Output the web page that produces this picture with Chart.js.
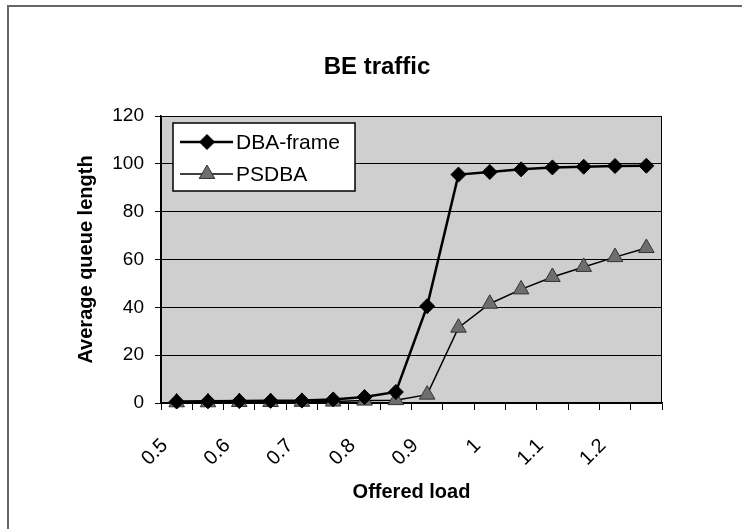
<!DOCTYPE html>
<html>
<head>
<meta charset="utf-8">
<script src="https://cdn.jsdelivr.net/npm/chart.js@4.4.0/dist/chart.umd.min.js"></script>
<style>
    html, body { margin: 0; padding: 0; background: #fff; }
    #wrap { position: relative; width: 742px; height: 529px; }
    #frame { position: absolute; left: 7px; top: 5px; right: 0; bottom: 0;
             border-top: 2px solid #666; border-left: 2px solid #666; pointer-events: none; }
</style>
</head>
<body>
<div id="wrap">
    <canvas id="beChart" width="742" height="529"></canvas>
    <div id="frame"></div>
</div>
<script>
// Offered load categories (every other one gets a tick label)
const loads = ['0.5', '0.55', '0.6', '0.65', '0.7', '0.75', '0.8', '0.85',
               '0.9', '0.95', '1', '1.05', '1.1', '1.15', '1.2', '1.25'];

// Average queue length
const dbaFrame = [0.6, 0.7, 0.8, 0.9, 1.0, 1.5, 2.5, 4.6,
                  40.5, 95.5, 96.6, 97.7, 98.5, 98.8, 99.1, 99.2];
const psdba = [0.3, 0.3, 0.4, 0.4, 0.5, 0.6, 1.0, 1.2,
               3.5, 31.5, 41.5, 47.5, 52.7, 56.9, 61.0, 64.8];

const yMax = 120;
const yStep = 20;

// Gray plot area + border
const plotBackground = {
    id: 'plotBackground',
    beforeDraw(chart) {
        const { ctx, chartArea: a } = chart;
        ctx.save();
        ctx.fillStyle = '#cfcfcf';
        ctx.fillRect(a.left, a.top, a.right - a.left, a.bottom - a.top);
        ctx.restore();
    },
    beforeDatasetsDraw(chart) {
        const { ctx, chartArea: a } = chart;
        ctx.save();
        ctx.strokeStyle = '#000';
        ctx.lineWidth = 1;
        ctx.strokeRect(a.left + 0.5, a.top + 0.5, a.right - a.left - 1, a.bottom - a.top);
        ctx.restore();
    }
};

// Title drawn at a fixed place (Excel centres it on the whole chart)
const fixedTitle = {
    id: 'fixedTitle',
    afterDraw(chart) {
        const ctx = chart.ctx;
        ctx.save();
        ctx.fillStyle = '#000';
        ctx.font = 'bold 24px "Liberation Sans", Arial, sans-serif';
        ctx.textAlign = 'center';
        ctx.textBaseline = 'middle';
        ctx.fillText('BE traffic', 377, 67);
        ctx.restore();
    }
};

function drawMarker(ctx, style, x, y, r, fill, stroke) {
    ctx.beginPath();
    if (style === 'rectRot') {
        ctx.moveTo(x, y - r);
        ctx.lineTo(x + r, y);
        ctx.lineTo(x, y + r);
        ctx.lineTo(x - r, y);
    } else {
        ctx.moveTo(x, y - r);
        ctx.lineTo(x + r * 0.866, y + r * 0.5);
        ctx.lineTo(x - r * 0.866, y + r * 0.5);
    }
    ctx.closePath();
    ctx.fillStyle = fill;
    ctx.fill();
    ctx.lineWidth = 1;
    ctx.strokeStyle = stroke;
    ctx.stroke();
}

// Boxed legend with line + marker samples, inside the plot area
const boxLegend = {
    id: 'boxLegend',
    afterDraw(chart) {
        const ctx = chart.ctx;
        const bx = 173, by = 123, bw = 182, bh = 68;
        ctx.save();
        ctx.fillStyle = '#fff';
        ctx.fillRect(bx, by, bw, bh);
        ctx.strokeStyle = '#000';
        ctx.lineWidth = 1.5;
        ctx.strokeRect(bx, by, bw, bh);
        ctx.font = '21px "Liberation Sans", Arial, sans-serif';
        ctx.textBaseline = 'middle';
        chart.data.datasets.forEach((ds, i) => {
            const y = by + 19 + i * 32;
            ctx.beginPath();
            ctx.moveTo(180, y);
            ctx.lineTo(233, y);
            ctx.strokeStyle = '#000';
            ctx.lineWidth = ds.borderWidth;
            ctx.stroke();
            drawMarker(ctx, ds.pointStyle, 207, y, ds.pointRadius,
                       ds.pointBackgroundColor, ds.pointBorderColor);
            ctx.fillStyle = '#000';
            ctx.fillText(ds.label, 236, y + 1);
        });
        ctx.restore();
    }
};

const ctx = document.getElementById('beChart').getContext('2d');
const beChart = new Chart(ctx, {
    type: 'line',
    data: {
        labels: loads,
        datasets: [
            {
                label: 'DBA-frame',
                data: dbaFrame,
                borderColor: '#000',
                borderWidth: 2.5,
                pointStyle: 'rectRot',
                pointRadius: 7.5,
                pointBackgroundColor: '#000',
                pointBorderColor: '#000',
                pointBorderWidth: 1,
                tension: 0,
                clip: false
            },
            {
                label: 'PSDBA',
                data: psdba,
                borderColor: '#000',
                borderWidth: 1.5,
                pointStyle: 'triangle',
                pointRadius: 9,
                pointBackgroundColor: '#6e6e6e',
                pointBorderColor: '#333',
                pointBorderWidth: 1,
                tension: 0,
                clip: false
            }
        ]
    },
    options: {
        responsive: false,
        animation: false,
        layout: { padding: { left: 0, right: 80, top: 116, bottom: 0 } },
        plugins: {
            legend: { display: false },
            title: { display: false },
            tooltip: { enabled: false }
        },
        scales: {
            x: {
                type: 'category',
                offset: true,
                grid: { display: true, offset: true, drawOnChartArea: false,
                        tickLength: 7, color: '#000', lineWidth: 1 },
                border: { display: true, color: '#000', width: 1.5 },
                ticks: {
                    autoSkip: false, maxRotation: 45, minRotation: 45,
                    color: '#000', padding: 24, labelOffset: -12,
                    font: { family: '"Liberation Sans", Arial, sans-serif', size: 20 },
                    callback: (v, i) => (i % 2 === 0 ? loads[i] : '')
                },
                title: {
                    display: true, text: 'Offered load', color: '#000',
                    font: { family: '"Liberation Sans", Arial, sans-serif', size: 20, weight: 'bold' },
                    padding: { top: 0, bottom: 25 }
                },
                afterFit: s => { s.height = 126; }
            },
            y: {
                min: 0, max: yMax,
                ticks: {
                    stepSize: yStep, color: '#000', padding: 11,
                    font: { family: '"Liberation Sans", Arial, sans-serif', size: 19 }
                },
                grid: { color: '#000', lineWidth: 1, tickLength: 6 },
                border: { display: true, color: '#000', width: 1.5 },
                title: {
                    display: true, text: 'Average queue length', color: '#000',
                    font: { family: '"Liberation Sans", Arial, sans-serif', size: 20, weight: 'bold' },
                    padding: { top: 74, bottom: 0 }
                },
                afterFit: s => { s.width = 161; }
            }
        }
    },
    plugins: [plotBackground, fixedTitle, boxLegend]
});
</script>
</body>
</html>
